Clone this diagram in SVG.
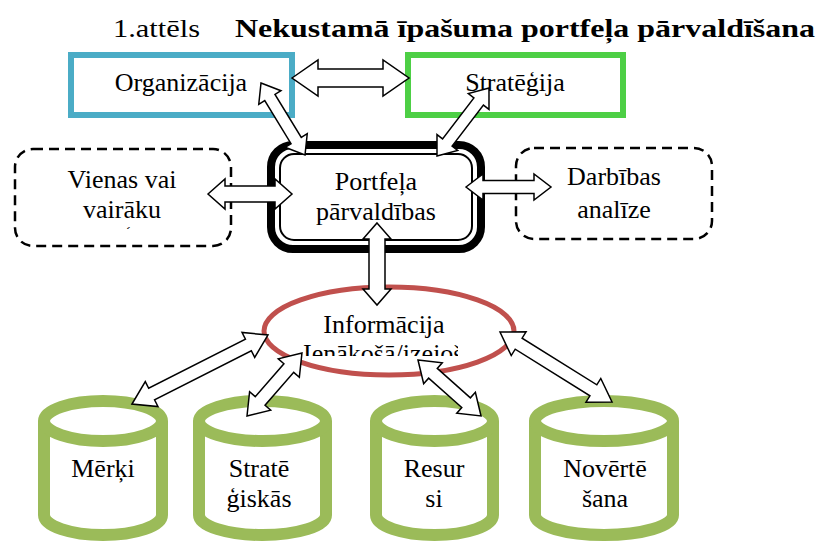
<svg xmlns="http://www.w3.org/2000/svg" width="818" height="546" viewBox="0 0 818 546" font-family="'Liberation Serif', 'Times New Roman', Tinos, 'DejaVu Serif', serif">
<style>
text{font-family:'Liberation Serif','Times New Roman',Tinos,'DejaVu Serif',serif;fill:#000;text-anchor:middle;font-size:26px}
.dash{fill:#fff;stroke:#000;stroke-width:2.5;stroke-dasharray:10 6}
.cyl{fill:#fff;stroke:#9BBB59;stroke-width:12}
.arr{fill:#fff;stroke:#000;stroke-width:1.5;stroke-linejoin:miter}
</style>
<defs>
<clipPath id="clipV"><rect x="10" y="140" width="230" height="89"/></clipPath>
<clipPath id="clipI"><rect x="300" y="280" width="158" height="76"/></clipPath>
</defs>
<g id="title">
<text x="156.5" y="37" font-size="30" textLength="87" lengthAdjust="spacingAndGlyphs">1.attēls</text>
<text x="525" y="37" font-size="31" font-weight="bold" textLength="580" lengthAdjust="spacingAndGlyphs">Nekustamā īpašuma portfeļa pārvaldīšana</text>
</g>
<g id="organizacija">
<rect x="71" y="55" width="221" height="60" fill="#fff" stroke="#4BACC6" stroke-width="6"/>
<text x="181" y="91" font-size="27">Organizācija</text>
</g>
<g id="strategija">
<rect x="408" y="55" width="215" height="60" fill="#fff" stroke="#4DCF45" stroke-width="6"/>
<text x="515" y="91">Stratēģija</text>
</g>
<g id="vienas">
<rect class="dash" x="15" y="149" width="216" height="97" rx="18"/>
<text x="122" y="188">Vienas vai</text>
<text x="122" y="218">vairāku</text>
<text x="122" y="246" clip-path="url(#clipV)">stratēģisko</text>
</g>
<g id="darbibas">
<rect class="dash" x="516" y="148" width="196" height="91" rx="18"/>
<text x="614" y="185">Darbības</text>
<text x="614" y="218">analīze</text>
</g>
<g id="portfela">
<rect x="271" y="145" width="210" height="104" rx="22" fill="#fff" stroke="#000" stroke-width="8"/>
<rect x="280" y="154" width="192" height="86" rx="14" fill="none" stroke="#000" stroke-width="2"/>
<text x="376" y="190">Portfeļa</text>
<text x="376" y="220">pārvaldības</text>
</g>
<g id="informacija">
<ellipse cx="389" cy="331" rx="125" ry="44" fill="#fff" stroke="#C0504D" stroke-width="5"/>
<text x="384" y="333">Informācija</text>
<text x="389" y="362" clip-path="url(#clipI)">Ienākošā/izejošā</text>
</g>
<g id="merki">
<path class="cyl" d="M44,421 L44,515 A59,20 0 0 0 162,515 L162,421"/>
<ellipse class="cyl" cx="103" cy="421" rx="59" ry="20"/>
<text x="103" y="477">Mērķi</text>
</g>
<g id="strategiskas">
<path class="cyl" d="M199,421 L199,515 A63.5,20 0 0 0 326,515 L326,421"/>
<ellipse class="cyl" cx="262.5" cy="421" rx="63.5" ry="20"/>
<text x="259" y="477">Stratē</text>
<text x="259" y="507">ģiskās</text>
</g>
<g id="resursi">
<path class="cyl" d="M376,421 L376,515 A58.5,20 0 0 0 493,515 L493,421"/>
<ellipse class="cyl" cx="434.5" cy="421" rx="58.5" ry="20"/>
<text x="434" y="477">Resur</text>
<text x="434" y="507">si</text>
</g>
<g id="novertesana">
<path class="cyl" d="M535,421 L535,515 A69,20 0 0 0 673,515 L673,421"/>
<ellipse class="cyl" cx="604" cy="421" rx="69" ry="20"/>
<text x="605" y="477">Novērtē</text>
<text x="605" y="507">šana</text>
</g>
<g id="connectors">
<path class="arr" transform="translate(292,78)" d="M0,0 L26,-18 L26,-9 L91,-9 L91,-18 L117,0 L91,18 L91,9 L26,9 L26,18 Z"/>
<path class="arr" transform="translate(261,83) rotate(58.57)" d="M0,0 L17,-13 L17,-6 L67.4,-6 L67.4,-13 L84.4,0 L67.4,13 L67.4,6 L17,6 L17,13 Z"/>
<path class="arr" transform="translate(437,156) rotate(-52.6)" d="M0,0 L17,-13 L17,-6 L68.6,-6 L68.6,-13 L85.6,0 L68.6,13 L68.6,6 L17,6 L17,13 Z"/>
<path class="arr" transform="translate(208,194)" d="M0,0 L17,-15 L17,-8 L67,-8 L67,-15 L84,0 L67,15 L67,8 L17,8 L17,15 Z"/>
<path class="arr" transform="translate(466,187)" d="M0,0 L17,-13 L17,-6.5 L68,-6.5 L68,-13 L85,0 L68,13 L68,6.5 L17,6.5 L17,13 Z"/>
<path class="arr" transform="translate(377,223) rotate(90)" d="M0,0 L16,-14 L16,-8 L66,-8 L66,-14 L82,0 L66,14 L66,8 L16,8 L16,14 Z"/>
<path class="arr" transform="translate(132,404) rotate(-26.9)" d="M0,0 L22,-14 L22,-6.5 L130.5,-6.5 L130.5,-14 L152.5,0 L130.5,14 L130.5,6.5 L22,6.5 L22,14 Z"/>
<path class="arr" transform="translate(247,416) rotate(-48.9)" d="M0,0 L20,-14 L20,-6.5 L63.6,-6.5 L63.6,-14 L83.6,0 L63.6,14 L63.6,6.5 L20,6.5 L20,14 Z"/>
<path class="arr" transform="translate(418,360) rotate(41.6)" d="M0,0 L20,-14 L20,-6.5 L64.3,-6.5 L64.3,-14 L84.3,0 L64.3,14 L64.3,6.5 L20,6.5 L20,14 Z"/>
<path class="arr" transform="translate(500,332) rotate(32)" d="M0,0 L22,-14 L22,-6.5 L110.1,-6.5 L110.1,-14 L132.1,0 L110.1,14 L110.1,6.5 L22,6.5 L22,14 Z"/>
</g>
</svg>
